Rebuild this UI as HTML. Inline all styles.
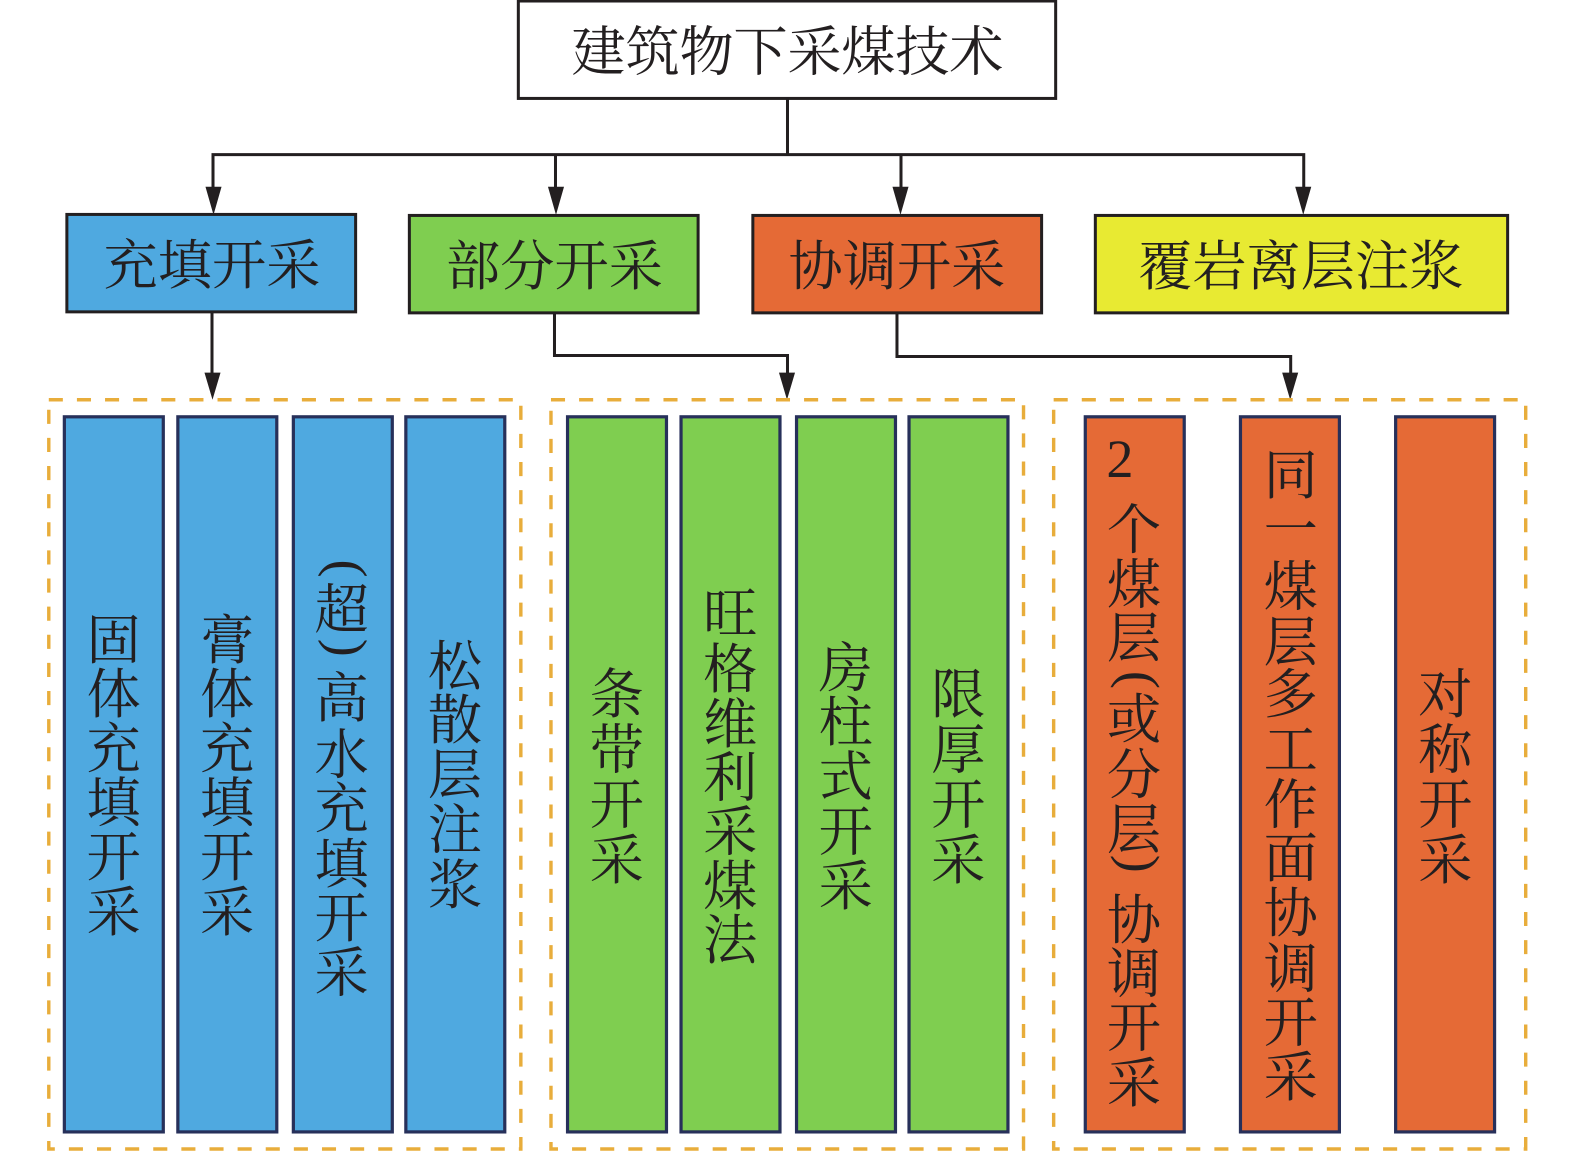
<!DOCTYPE html>
<html lang="zh"><head><meta charset="utf-8"><title>建筑物下采煤技术</title>
<style>html,body{margin:0;padding:0;background:#fff}svg{display:block}
text{font-family:"Liberation Serif","Noto Serif CJK SC",serif;font-size:54px;fill:#231f20;text-anchor:middle}
.b{stroke:#231f20;stroke-width:3}.c{stroke:#27305a;stroke-width:3.2}
.l{fill:none;stroke:#231f20;stroke-width:3}.a{fill:#231f20}
.d{fill:none;stroke:#e8ad3b;stroke-width:3.4;stroke-dasharray:14 14}</style></head>
<body>
<svg width="1575" height="1151" viewBox="0 0 1568 1146" xmlns="http://www.w3.org/2000/svg">
<rect width="1568" height="1146" fill="#fff"/>
<rect class="b" x="516" y="1" width="535" height="97" fill="#fff"/>
<text x="784" y="70" textLength="430">建筑物下采煤技术</text>
<path class="l" d="M784 98V154M212 187V154H1298V187M553 154V187M897 154V187M211 310V372M552 311V354H784V372M893 311V355H1285V372"/>
<path class="a" d="M204.500 186H220.500L212.500 214ZM545.500 186H561.500L553.500 214ZM888.500 186H904.500L896.500 214ZM1289.500 186H1305.500L1297.500 214ZM203.500 371H219.500L211.500 398ZM775.500 371H791.500L783.500 398ZM1276.500 371H1292.500L1284.500 398Z"/>
<rect class="b" x="66.500" y="213.500" width="287.500" height="97" fill="#4fa9e0"/>
<rect class="b" x="407.500" y="214.500" width="287.500" height="97" fill="#7fce50"/>
<rect class="b" x="749.500" y="214.500" width="287.500" height="97" fill="#e56a36"/>
<rect class="b" x="1090.500" y="214.500" width="410.500" height="97" fill="#e8ea32"/>
<text x="211" y="283">充填开采</text><text x="552" y="284">部分开采</text><text x="893" y="284">协调开采</text><text x="1295" y="284">覆岩离层注浆</text>
<rect class="d" x="48.500" y="398" width="470" height="746"/><rect class="d" x="548.500" y="398" width="470.500" height="746"/><rect class="d" x="1049" y="398" width="470" height="746"/>
<g fill="#4fa9e0" class="c"><rect x="64" y="415" width="98.500" height="712"/><rect x="177" y="415" width="98.500" height="712"/><rect x="292" y="415" width="98.500" height="712"/><rect x="404" y="415" width="98.500" height="712"/></g>
<g fill="#7fce50" class="c"><rect x="565" y="415" width="98.500" height="712"/><rect x="678" y="415" width="98.500" height="712"/><rect x="793" y="415" width="98.500" height="712"/><rect x="905" y="415" width="98.500" height="712"/></g>
<g fill="#e56a36" class="c"><rect x="1080.500" y="415" width="98.500" height="712"/><rect x="1235" y="415" width="98.500" height="712"/><rect x="1389.500" y="415" width="98.500" height="712"/></g>
<g>
<text x="113" y="656">固</text><text x="113" y="710">体</text><text x="113" y="764">充</text><text x="113" y="818">填</text><text x="113" y="872">开</text><text x="113" y="927">采</text>
<text x="226" y="656">膏</text><text x="226" y="710">体</text><text x="226" y="764">充</text><text x="226" y="818">填</text><text x="226" y="872">开</text><text x="226" y="927">采</text>
<text transform="translate(340 566) rotate(90)" y="12">(</text><text x="340" y="626">超</text><text transform="translate(340 645) rotate(90)" y="12">)</text><text x="340" y="714">高</text><text x="340" y="770">水</text><text x="340" y="824">充</text><text x="340" y="879">填</text><text x="340" y="933">开</text><text x="340" y="987">采</text>
<text x="453" y="682">松</text><text x="453" y="736">散</text><text x="453" y="790">层</text><text x="453" y="845">注</text><text x="453" y="900">浆</text>
<text x="614" y="710">条</text><text x="614" y="765">带</text><text x="614" y="820">开</text><text x="614" y="875">采</text>
<text x="727" y="630">旺</text><text x="727" y="685">格</text><text x="727" y="740">维</text><text x="727" y="793">利</text><text x="727" y="847">采</text><text x="727" y="901">煤</text><text x="727" y="955">法</text>
<text x="842" y="684">房</text><text x="842" y="738">柱</text><text x="842" y="792">式</text><text x="842" y="847">开</text><text x="842" y="901">采</text>
<text x="954" y="710">限</text><text x="954" y="765">厚</text><text x="954" y="820">开</text><text x="954" y="875">采</text>
<text x="1115" y="475">2</text><text x="1129" y="546">个</text><text x="1129" y="601">煤</text><text x="1129" y="654">层</text><text transform="translate(1129 677) rotate(90)" y="12">(</text><text x="1129" y="735">或</text><text x="1129" y="790">分</text><text x="1129" y="845">层</text><text transform="translate(1129 860) rotate(90)" y="12">)</text><text x="1129" y="935">协</text><text x="1129" y="988">调</text><text x="1129" y="1042">开</text><text x="1129" y="1097">采</text>
<text x="1285" y="492">同</text><text x="1285" y="546">一</text><text x="1285" y="603">煤</text><text x="1285" y="658">层</text><text x="1285" y="710">多</text><text x="1285" y="765">工</text><text x="1285" y="820">作</text><text x="1285" y="873">面</text><text x="1285" y="928">协</text><text x="1285" y="983">调</text><text x="1285" y="1037">开</text><text x="1285" y="1091">采</text>
<text x="1439" y="710">对</text><text x="1439" y="765">称</text><text x="1439" y="820">开</text><text x="1439" y="875">采</text>
</g>
</svg>
</body></html>
